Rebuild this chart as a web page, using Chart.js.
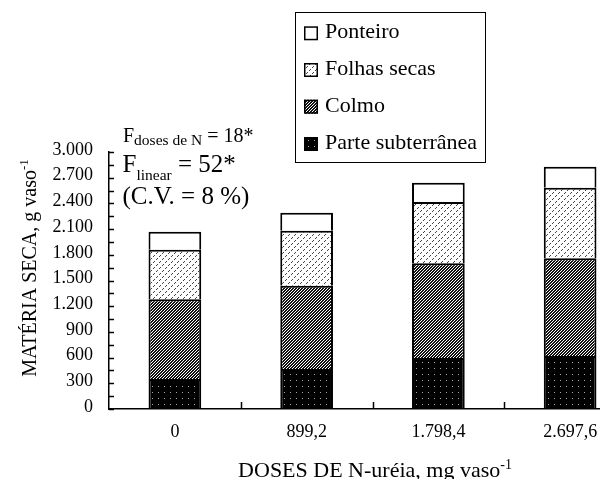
<!DOCTYPE html>
<html><head><meta charset="utf-8">
<script src="https://cdn.jsdelivr.net/npm/chart.js@4"></script>
<style>html,body{margin:0;padding:0;overflow:hidden;background:#fff;width:600px;height:479px}canvas{display:block}</style>
</head><body>
<canvas id="c" width="640" height="479"></canvas>
<script>
const categories = ['0', '899,2', '1.798,4', '2.697,6'];
const parteSubterranea = [350, 467, 595, 619];
const colmo = [931, 972, 1106, 1140];
const folhasSecas = [579, 642, 715, 824];
const ponteiro = [210, 210, 226, 245];
const yTickLabels = ['0', '300', '600', '900', '1.200', '1.500', '1.800', '2.100', '2.400', '2.700', '3.000'];
const legendOrder = ['Ponteiro', 'Folhas secas', 'Colmo', 'Parte subterrânea'];

const SERIF = "'Liberation Serif', 'Times New Roman', serif";

function makePattern(kind) {
  const t = document.createElement('canvas');
  const g = t.getContext('2d');
  if (kind === 'hatch') {
    t.width = 3; t.height = 3;
    g.fillStyle = '#fff'; g.fillRect(0, 0, 3, 3);
    g.fillStyle = '#111';
    for (let x = 0; x < 3; x++) for (let y = 0; y < 3; y++) if ((x + y) % 3 !== 0) g.fillRect(x, y, 1, 1);
  } else if (kind === 'stipple') {
    t.width = 6; t.height = 6;
    g.fillStyle = '#fff'; g.fillRect(0, 0, 6, 6);
    g.fillStyle = '#444';
    [[1,0],[0,1],[4,3],[3,4]].forEach(p => g.fillRect(p[0], p[1], 1, 1));
  } else if (kind === 'blackdots') {
    t.width = 6; t.height = 6;
    g.fillStyle = '#000'; g.fillRect(0, 0, 6, 6);
    g.fillStyle = '#aaa'; g.fillRect(2, 2, 1, 1);
  }
  return document.createElement('canvas').getContext('2d').createPattern(t, 'repeat');
}
const fills = {
  'Parte subterrânea': makePattern('blackdots'),
  'Colmo': makePattern('hatch'),
  'Folhas secas': makePattern('stipple'),
  'Ponteiro': '#ffffff'
};

function drawParts(ctx, parts, x, y) {
  let cx = x;
  parts.forEach(p => {
    ctx.font = p.size + 'px ' + SERIF;
    ctx.fillText(p.t, cx, y + (p.dy || 0));
    cx += ctx.measureText(p.t).width;
  });
  return cx - x;
}
function partsWidth(ctx, parts) {
  let w = 0;
  parts.forEach(p => { ctx.font = p.size + 'px ' + SERIF; w += ctx.measureText(p.t).width; });
  return w;
}

const decor = {
  id: 'decor',
  afterDraw(chart) {
    const { ctx, chartArea: ca, scales: { x, y } } = chart;
    ctx.save();
    ctx.strokeStyle = '#000';
    ctx.fillStyle = '#000';
    ctx.lineWidth = 1.5;
    // inward y ticks
    y.ticks.forEach(t => {
      const py = Math.round(y.getPixelForValue(t.value)) + 0.5;
      ctx.beginPath(); ctx.moveTo(ca.left, py); ctx.lineTo(ca.left + 5, py); ctx.stroke();
    });
    // inward x ticks between categories
    for (let i = 1; i < categories.length; i++) {
      const px = Math.round((x.getPixelForValue(i - 1) + x.getPixelForValue(i)) / 2) + 0.5;
      ctx.beginPath(); ctx.moveTo(px, ca.bottom); ctx.lineTo(px, ca.bottom - 7); ctx.stroke();
    }
    // annotation
    ctx.textAlign = 'left'; ctx.textBaseline = 'alphabetic';
    drawParts(ctx, [{t:'F', size:20}, {t:'doses de N', size:15.5, dy:3}, {t:' = 18*', size:20}], 123, 141.5);
    drawParts(ctx, [{t:'F', size:25}, {t:'linear', size:15.5, dy:8}, {t:' = 52*', size:25}], 122.5, 171.5);
    drawParts(ctx, [{t:'(C.V. = 8 %)', size:25}], 122.5, 203.5);
    // legend
    ctx.lineWidth = 1;
    ctx.strokeRect(295.5, 12.5, 190, 150);
    const base = [38.3, 75, 111.7, 149];
    legendOrder.forEach((name, i) => {
      const by = base[i];
      ctx.fillStyle = fills[name];
      ctx.fillRect(304, by - 12, 14, 14);
      ctx.lineWidth = 1.5;
      ctx.strokeRect(304.75, by - 11.25, 12.5, 12.5);
      ctx.fillStyle = '#000';
      ctx.font = '22px ' + SERIF;
      ctx.fillText(name, 325, by);
    });
    // x title
    const xt = [{t:'DOSES DE N-uréia, mg vaso', size:22}, {t:'-1', size:14, dy:-8}];
    const xw = partsWidth(ctx, xt);
    drawParts(ctx, xt, 375 - xw / 2, 477);
    // y title
    const yt = [{t:'MATÉRIA SECA, g vaso', size:20}, {t:'-1', size:13, dy:-8}];
    const yw = partsWidth(ctx, yt);
    ctx.translate(36, 268);
    ctx.rotate(-Math.PI / 2);
    drawParts(ctx, yt, -yw / 2, 0);
    ctx.restore();
  }
};

const mk = (label, data) => ({
  label, data,
  backgroundColor: fills[label],
  borderColor: '#000', borderWidth: 2, borderSkipped: 'start',
  barPercentage: 0.4, categoryPercentage: 1.0
});

new Chart(document.getElementById('c'), {
  type: 'bar',
  data: {
    labels: categories,
    datasets: [
      mk('Parte subterrânea', parteSubterranea),
      mk('Colmo', colmo),
      mk('Folhas secas', folhasSecas),
      mk('Ponteiro', ponteiro)
    ]
  },
  options: {
    responsive: false, animation: false,
    layout: { padding: { left: 0, right: 4, top: 152, bottom: 0 } },
    plugins: { legend: { display: false }, tooltip: { enabled: false } },
    scales: {
      x: {
        stacked: true,
        grid: { display: false, drawTicks: false },
        border: { display: true, color: '#000', width: 1.5 },
        ticks: { color: '#000', font: { family: SERIF, size: 18 }, padding: 12 },
        afterFit(s) { s.height = 70; }
      },
      y: {
        stacked: true, min: 0, max: 3000,
        grid: { display: false, drawTicks: false },
        border: { display: true, color: '#000', width: 1.5 },
        ticks: {
          stepSize: 150, autoSkip: false, color: '#000',
          font: { family: SERIF, size: 18 }, padding: 16, labelOffset: -2,
          callback: (v) => (v % 300 === 0 ? yTickLabels[v / 300] : '')
        },
        afterFit(s) { s.width = 109; }
      }
    }
  },
  plugins: [decor]
});
</script>
</body></html>
